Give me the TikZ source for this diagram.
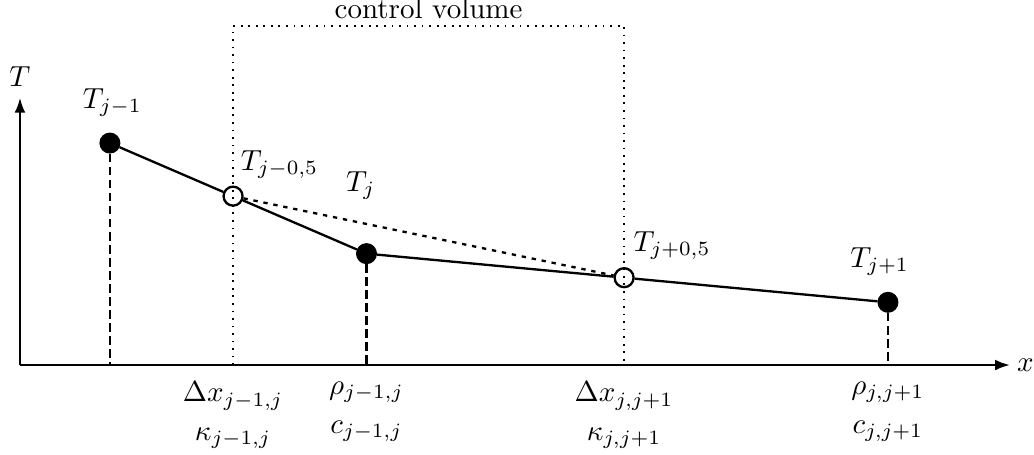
\documentclass[tikz,border=0pt]{standalone}
\usepackage{amsmath}
\usepackage{tikz}
\usetikzlibrary{arrows.meta,positioning,calc}

\begin{document}
\begin{tikzpicture}[
grid/.style={circle,fill=black,draw=black,inner sep=0pt,minimum size=2.4mm},
face/.style={circle,draw=black,thick,inner sep=0pt,minimum size=2.3mm},
axis/.style={-{Latex[length=1.8mm,width=1.3mm]},thick},
drop/.style={thick,dash pattern=on 3pt off 1.5pt},
guess/.style={thick,dash pattern=on 1.5pt off 2pt},
cv/.style={dotted,semithick},
lbl/.style={align=center}
]
\useasboundingbox (-0.242,-1.079) rectangle (12.29,4.424);
\coordinate (O) at (0,0);
\coordinate (xend) at (12,0);
\coordinate (yend) at (0,3.24);
\coordinate (top) at (0,4.11);

% grid points and faces
\node[grid] (Tm) at (1.09,2.69) {};
\node[grid] (Tj) at (4.2,1.35) {};
\node[grid] (Tp) at (10.52,0.76) {};
\node[face] (Fm) at ($(Tm)!0.48!(Tj)$) {};
\node[face] (Fp) at ($(Tj)!0.494!(Tp)$) {};

\draw[axis] (O) -- (xend) node[right,inner sep=2pt] (xlbl) {$x$};
\draw[axis] (O) -- (yend) node[above] (ylbl) {$T$};

\draw[cv] (Fm |- O) -- (Fm |- top) -- (Fp |- top) node[midway,above,inner sep=2pt] (cvlbl) {control volume} -- (Fp |- O);

\draw[thick] (Tm) -- (Fm) -- (Tj) -- (Fp) -- (Tp);
\draw[guess] (Fm) -- (Fp);
\foreach \p in {Tm,Tj,Tp} \draw[drop] (\p) -- (\p |- O);

\node[above=0.7mm of Tm,xshift=0.3mm] (lTm) {$T_{j-1}$};
\node[above right=0mm and -1.2mm of Fm] (lFm) {$T_{j-0,5}$};
\node[above=4mm of Tj,xshift=-0.7mm] (lTj) {$T_j$};
\node[above right=0mm and -1mm of Fp] (lFp) {$T_{j+0,5}$};
\node[above=0.7mm of Tp,xshift=-1mm] (lTp) {$T_{j+1}$};

% properties below the axis
\coordinate (bFm) at (Fm |- O);
\coordinate (bTj) at (Tj |- O);
\coordinate (bFp) at (Fp |- O);
\coordinate (bTp) at (Tp |- O);
\node[lbl,below=0.8mm of bFm] (pFm) {$\Delta x_{j-1,j}$\\[0.5mm]$\kappa_{j-1,j}$};
\node[lbl,below=0.8mm of bTj] (pTj) {$\rho_{j-1,j}$\\[0.5mm]$c_{j-1,j}$};
\node[lbl,below=0.8mm of bFp] (pFp) {$\Delta x_{j,j+1}$\\[0.5mm]$\kappa_{j,j+1}$};
\node[lbl,below=0.8mm of bTp] (pTp) {$\rho_{j,j+1}$\\[0.5mm]$c_{j,j+1}$};
\end{tikzpicture}
\end{document}
